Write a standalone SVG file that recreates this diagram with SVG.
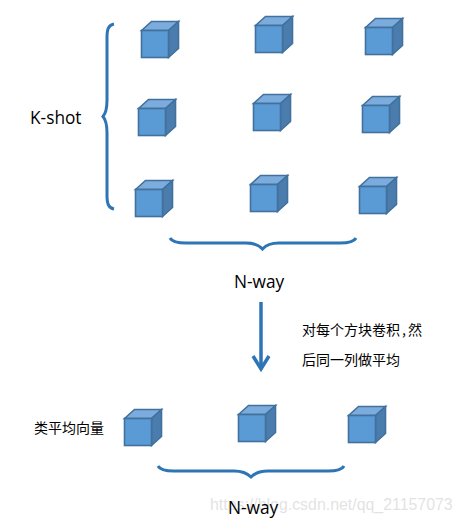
<svg xmlns="http://www.w3.org/2000/svg" width="462" height="525" viewBox="0 0 462 525">
<style>
.bg{fill:#fff}
.f{fill:#5b9bd5}.t{fill:#7cacdd}.s{fill:#4a7dae}
.e{stroke:#41719c;stroke-width:1.6;stroke-linejoin:miter}
.b{fill:none;stroke:#2e75b6;stroke-width:3}
.l{font-family:"Open Sans","Noto Sans",sans-serif;font-size:17.300px;fill:#000}
.c{font-family:"Noto Sans CJK SC",sans-serif;font-size:14px;fill:#000}
.w{font-family:"Liberation Sans",sans-serif;font-size:15.900px;fill:#d9d9d9;fill-opacity:.75}
</style>
<defs>
<g id="cube">
<path class="t e" d="M0 0L10 -9H37L27 0Z"/>
<path class="s e" d="M27 0L37 -9V18L27 27Z"/>
<rect class="f e" x="0" y="0" width="27" height="27"/>
</g>
</defs>
<rect class="bg" width="462" height="525"/>
<g id="cubes">
<g id="c11"><use href="#cube" x="141.500" y="30.500"/></g>
<g id="c12"><use href="#cube" x="255.500" y="25.500"/></g>
<g id="c13"><use href="#cube" x="365.500" y="27.500"/></g>
<g id="c21"><use href="#cube" x="138.500" y="108.500"/></g>
<g id="c22"><use href="#cube" x="253.500" y="103.500"/></g>
<g id="c23"><use href="#cube" x="362.500" y="105.500"/></g>
<g id="c31"><use href="#cube" x="135.500" y="189.500"/></g>
<g id="c32"><use href="#cube" x="250.500" y="184.500"/></g>
<g id="c33"><use href="#cube" x="359.500" y="186.500"/></g>
<g id="m1"><use href="#cube" x="124.500" y="418.500"/></g>
<g id="m2"><use href="#cube" x="238.500" y="414.500"/></g>
<g id="m3"><use href="#cube" x="348.500" y="415.500"/></g>
</g>
<g id="connectors">
<path class="b" d="M114 24C108 25 107 30 107 38V100C107 109 106 113 103 116.500C106 120 107 124 107 133V195C107 203 108 208 114 209"/>
<path class="b" d="M170 238C172 242 178 243 186 243H246C254 243 259 245 262.500 249C266 245 271 243 279 243H340C348 243 354 242 356 238"/>
<path class="b" d="M158 466C160 470 166 471 174 471H234C242 471 247 473 251 477C255 473 260 471 268 471H328C336 471 342 470 344 466"/>
<path d="M261 302V368" fill="none" stroke="#2e75b6" stroke-width="3.500"/>
<path d="M253 356L261 369L269 356" fill="none" stroke="#2e75b6" stroke-width="3.500"/>
</g>
<text class="l" x="30" y="124">K-shot</text>
<text class="l" x="234" y="288">N-way</text>
<text class="c" x="302" y="335">对每个方块卷积<tspan dx="2">,</tspan><tspan dx="2">然</tspan></text>
<text class="c" x="302" y="365">后同一列做平均</text>
<text class="c" x="34" y="433">类平均向量</text>
<text class="w" x="210" y="510">https://blog.csdn.net/qq_21157073</text>
<text class="l" x="228" y="514">N-way</text>
</svg>
